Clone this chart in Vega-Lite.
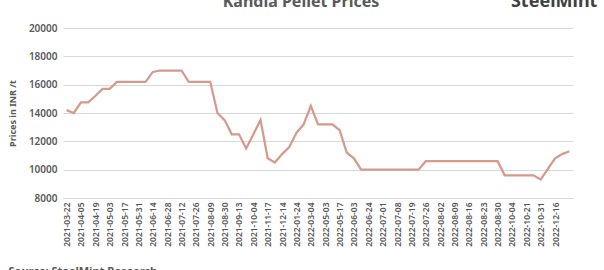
{
  "$schema": "https://vega.github.io/schema/vega-lite/v6.json",
  "width": 510,
  "height": 170,
  "autosize": {"type": "none"},
  "padding": {"left": 63, "top": 28, "right": 31, "bottom": 72},
  "background": "white",
  "title": {"text": "Kandia Pellet Prices", "fontSize": 16, "fontWeight": "bold", "color": "#595959", "font": "Noto Sans", "anchor": "middle", "dx": -17, "baseline": "alphabetic", "offset": 0, "dy": 30},
  "data": {"values": [
    {"date": "2021-03-22", "price": 14200},
    {"date": "2021-03-29", "price": 14000},
    {"date": "2021-04-05", "price": 14750},
    {"date": "2021-04-12", "price": 14750},
    {"date": "2021-04-19", "price": 15200},
    {"date": "2021-04-26", "price": 15700},
    {"date": "2021-05-03", "price": 15700},
    {"date": "2021-05-10", "price": 16200},
    {"date": "2021-05-17", "price": 16200},
    {"date": "2021-05-24", "price": 16200},
    {"date": "2021-05-31", "price": 16200},
    {"date": "2021-06-07", "price": 16200},
    {"date": "2021-06-14", "price": 16900},
    {"date": "2021-06-21", "price": 17000},
    {"date": "2021-06-28", "price": 17000},
    {"date": "2021-07-05", "price": 17000},
    {"date": "2021-07-12", "price": 17000},
    {"date": "2021-07-19", "price": 16200},
    {"date": "2021-07-26", "price": 16200},
    {"date": "2021-08-02", "price": 16200},
    {"date": "2021-08-09", "price": 16200},
    {"date": "2021-08-16", "price": 14000},
    {"date": "2021-08-30", "price": 13500},
    {"date": "2021-09-06", "price": 12500},
    {"date": "2021-09-13", "price": 12500},
    {"date": "2021-09-27", "price": 11500},
    {"date": "2021-10-04", "price": 12500},
    {"date": "2021-10-25", "price": 13500},
    {"date": "2021-11-17", "price": 10800},
    {"date": "2021-11-30", "price": 10500},
    {"date": "2021-12-14", "price": 11100},
    {"date": "2022-01-03", "price": 11600},
    {"date": "2022-01-24", "price": 12600},
    {"date": "2022-02-14", "price": 13200},
    {"date": "2022-03-04", "price": 14500},
    {"date": "2022-04-04", "price": 13200},
    {"date": "2022-05-03", "price": 13200},
    {"date": "2022-05-10", "price": 13200},
    {"date": "2022-05-17", "price": 12800},
    {"date": "2022-05-24", "price": 11200},
    {"date": "2022-06-03", "price": 10800},
    {"date": "2022-06-13", "price": 10000},
    {"date": "2022-06-24", "price": 10000},
    {"date": "2022-06-28", "price": 10000},
    {"date": "2022-07-01", "price": 10000},
    {"date": "2022-07-05", "price": 10000},
    {"date": "2022-07-08", "price": 10000},
    {"date": "2022-07-12", "price": 10000},
    {"date": "2022-07-19", "price": 10000},
    {"date": "2022-07-22", "price": 10000},
    {"date": "2022-07-26", "price": 10600},
    {"date": "2022-07-29", "price": 10600},
    {"date": "2022-08-02", "price": 10600},
    {"date": "2022-08-05", "price": 10600},
    {"date": "2022-08-09", "price": 10600},
    {"date": "2022-08-12", "price": 10600},
    {"date": "2022-08-16", "price": 10600},
    {"date": "2022-08-19", "price": 10600},
    {"date": "2022-08-23", "price": 10600},
    {"date": "2022-08-26", "price": 10600},
    {"date": "2022-08-30", "price": 10600},
    {"date": "2022-09-15", "price": 9600},
    {"date": "2022-10-04", "price": 9600},
    {"date": "2022-10-14", "price": 9600},
    {"date": "2022-10-21", "price": 9600},
    {"date": "2022-10-26", "price": 9600},
    {"date": "2022-10-31", "price": 9300},
    {"date": "2022-11-21", "price": 10050},
    {"date": "2022-12-16", "price": 10800},
    {"date": "2022-12-23", "price": 11100},
    {"date": "2022-12-30", "price": 11300}
  ]},
  "resolve": {"axis": {"x": "independent", "y": "independent"}},
  "layer": [
    {
      "mark": {"type": "line", "color": "#d6998b", "strokeWidth": 2.25},
      "encoding": {
        "x": {
          "field": "date", "type": "ordinal", "sort": null,
          "scale": {"type": "point", "padding": 0.5},
          "axis": {
            "title": "Source: SteelMint Research",
            "values": ["2021-03-22","2021-04-05","2021-04-19","2021-05-03","2021-05-17","2021-05-31","2021-06-14","2021-06-28","2021-07-12","2021-07-26","2021-08-09","2021-08-30","2021-09-13","2021-10-04","2021-11-17","2021-12-14","2022-01-24","2022-03-04","2022-05-03","2022-05-17","2022-06-03","2022-06-24","2022-07-01","2022-07-08","2022-07-19","2022-07-26","2022-08-02","2022-08-09","2022-08-16","2022-08-23","2022-08-30","2022-10-04","2022-10-21","2022-10-31","2022-12-16"],
            "labelAngle": -90, "labelAlign": "right", "labelBaseline": "middle",
            "labelFont": "Noto Sans", "labelFontSize": 8.5, "labelFontWeight": 600, "labelColor": "#595959",
            "labelPadding": 4, "labelOverlap": false,
            "ticks": false, "grid": false, "domainColor": "#d9d9d9", "domainWidth": 1,
            "titleAnchor": "start", "titleAlign": "left", "titleBaseline": "top",
            "titleX": -55, "titleY": 67, "titleFont": "Noto Sans", "titleFontSize": 11,
            "titleFontWeight": "bold", "titleColor": "#595959"
          }
        },
        "y": {
          "field": "price", "type": "quantitative",
          "scale": {"domain": [8000, 20000], "nice": false},
          "axis": {
            "values": [8000, 10000, 12000, 14000, 16000, 18000, 20000],
            "format": "d", "labelOverlap": false,
            "title": "Prices in INR /t", "titleFont": "Noto Sans", "titleFontSize": 9,
            "titleFontWeight": "bold", "titleColor": "#595959", "titlePadding": 11,
            "labelFont": "Noto Sans", "labelFontSize": 10, "labelFontWeight": 600, "labelColor": "#595959",
            "labelPadding": 6, "domain": false, "ticks": false,
            "grid": true, "gridColor": "#d9d9d9", "gridWidth": 1
          }
        }
      }
    },
    {
      "data": {"values": [{"label": "SteelMint"}]},
      "mark": {"type": "text", "font": "Noto Sans", "fontSize": 18, "fontWeight": "bold", "color": "#404040", "align": "right", "baseline": "alphabetic", "dx": 28, "dy": -21},
      "encoding": {
        "text": {"field": "label"},
        "x": {"datum": "2022-12-30", "type": "ordinal", "axis": null},
        "y": {"datum": 20000, "type": "quantitative", "axis": null}
      }
    }
  ],
  "config": {"view": {"stroke": null}}
}
